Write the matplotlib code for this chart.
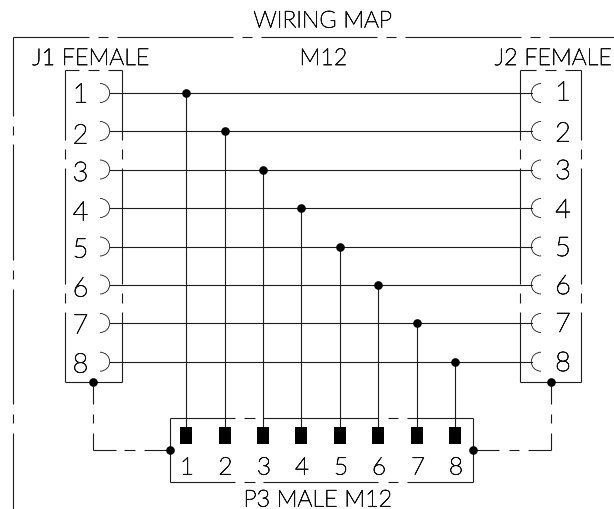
import matplotlib
matplotlib.use("Agg")
import matplotlib.pyplot as plt
import matplotlib.patheffects as pe
from matplotlib.patches import Arc, Rectangle

# ---- content -------------------------------------------------------------
pins = ["1", "2", "3", "4", "5", "6", "7", "8"]
wire_y = [94, 132, 170.5, 209, 247.5, 285.5, 324, 362.7]
branch_x = [186, 224.5, 263, 301, 340, 378, 417, 455]
j1_label_y = [94, 135, 172.5, 212, 249, 288, 325, 364]
j2_label_y = [92, 133, 170.5, 209.5, 247.5, 285.5, 323.5, 362.5]

title = "WIRING MAP"
j1_title = "J1 FEMALE"
j2_title = "J2 FEMALE"
mid_title = "M12"
p3_title = "P3 MALE M12"

LINE = "#1c1c1c"
LW = 0.8
FS = 16.8
FS_NUM = 19.5
FS_PIN = 17.5
FONT = "Lato"
INK = "#111111"

fig = plt.figure(figsize=(6.14, 5.10), dpi=100, facecolor="white")
ax = fig.add_axes([0, 0, 1, 1])
ax.set_xlim(0, 614)
ax.set_ylim(510, 0)
ax.axis("off")


def hsegs(y, spans, color=LINE, lw=LW):
    for a, b in spans:
        ax.plot([a, b], [y, y], color=color, lw=lw, solid_capstyle="butt", zorder=2)


def vsegs(x, spans, color=LINE, lw=LW):
    for a, b in spans:
        ax.plot([x, x], [a, b], color=color, lw=lw, solid_capstyle="butt", zorder=2)


def dot(x, y):
    ax.plot([x], [y], "o", color="black", ms=6.2, mew=0, zorder=5)


def label(x, y, s, size=FS):
    ax.text(x, y + 2, s, family=FONT, fontsize=size, fontweight="light", color=INK,
            ha="center", va="center", zorder=6,
            path_effects=[pe.withStroke(linewidth=0.55, foreground=INK)])


# outer frame
hsegs(38, [(12.5, 89), (98, 108), (117, 233), (242, 252), (261, 377), (386, 396),
           (405, 521), (530, 540), (549, 614)])
vsegs(12.5, [(38, 117), (127, 136), (145, 261), (271, 280), (290, 405), (415, 424),
             (434, 510)])

# connector boxes
side_spans = [(70.5, 141), (150, 159.5), (168.5, 285), (294, 304), (313, 383)]
for x in (64.5, 122):
    vsegs(x, side_spans)
hsegs(70.5, [(64.5, 79), (88, 99), (108, 122)])
hsegs(383, [(64.5, 122)])

for x in (520, 581):
    vsegs(x, side_spans)
hsegs(70.5, [(520, 536), (545, 556), (565, 581)])
hsegs(383, [(520, 581)])

# P3 box
vsegs(169.5, [(418.7, 483)])
vsegs(472.7, [(418.7, 483)])
for y in (418.7, 483):
    hsegs(y, [(169.5, 235), (244, 255), (263, 378), (388, 398), (407, 472.7)])

# wires, sockets, branches and pins
for i, pin in enumerate(pins):
    y = wire_y[i]
    x = branch_x[i]
    ax.plot([109.7, 531.7], [y, y], color=LINE, lw=LW, zorder=2)
    ax.add_patch(Arc((100, y), 19.4, 19, theta1=-90, theta2=90, color=LINE, lw=0.6, zorder=2))
    ax.add_patch(Arc((541, y), 19.4, 19, theta1=90, theta2=270, color=LINE, lw=0.6, zorder=2))
    ax.plot([x, x], [y, 428], color=LINE, lw=LW, zorder=2)
    dot(x, y)
    ax.add_patch(Rectangle((x - 6, 427.7), 12, 17.6, fc="black", ec="none", zorder=4))
    label(80.5, j1_label_y[i], pin, FS_NUM)
    label(563, j2_label_y[i], pin, FS_NUM)
    label(x + 1, 467, pin, FS_PIN)

# shield links
vsegs(93.3, [(383, 405), (415, 424), (434, 451)])
hsegs(451, [(93.3, 116), (124, 135), (144, 169.5)])
vsegs(550.7, [(383, 405), (415, 424), (434, 451)])
hsegs(451, [(472.7, 499), (509, 519), (528, 550.7)])
for x, y in [(93.3, 383), (550.7, 383), (169.5, 451), (472.7, 451)]:
    dot(x, y)

# titles
label(323, 20, title)
label(91, 57.5, j1_title)
label(323.5, 57.5, mid_title)
label(553.5, 57.5, j2_title)
label(318, 499, p3_title)

fig.savefig("out.png", dpi=100, facecolor="white")
